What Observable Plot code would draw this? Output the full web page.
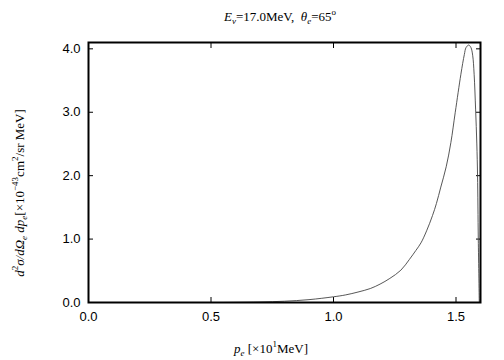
<!DOCTYPE html>
<html>
<head>
<meta charset="utf-8">
<script src="https://cdn.jsdelivr.net/npm/d3@7"></script>
<script src="https://cdn.jsdelivr.net/npm/@observablehq/plot@0.6"></script>
<style>
  html, body { margin: 0; padding: 0; background: #fff; }
</style>
</head>
<body>
<div id="chart"></div>
<script>
// momentum p_e [x10 MeV]
const pe = [0.55, 0.60, 0.70, 0.80, 0.90, 1.00, 1.05, 1.10, 1.15, 1.19, 1.23, 1.275, 1.31, 1.336, 1.357, 1.38, 1.404, 1.42, 1.438, 1.46, 1.479, 1.497, 1.52, 1.534, 1.541, 1.552, 1.561, 1.568, 1.574, 1.58, 1.585, 1.588, 1.591, 1.595];
// cross section [x10^-43 cm^2/sr MeV]
const xs = [0.0, 0.002, 0.008, 0.02, 0.045, 0.09, 0.12, 0.165, 0.22, 0.29, 0.38, 0.51, 0.68, 0.82, 0.94, 1.13, 1.37, 1.56, 1.82, 2.14, 2.52, 3.0, 3.60, 3.91, 4.02, 4.06, 4.02, 3.90, 3.60, 3.05, 2.5, 2.0, 1.0, 0.0];
const xTicks = [0.0, 0.5, 1.0, 1.5];
const yTicks = [0.0, 1.0, 2.0, 3.0, 4.0];

const data = pe.map((p, i) => ({p, v: xs[i]}));
const fmt = d3.format(".1f");

const chart = Plot.plot({
  width: 504,
  height: 360,
  marginLeft: 88,
  marginRight: 24,
  marginTop: 42,
  marginBottom: 58,
  style: {background: "#fff", color: "#000", fontFamily: "Liberation Sans, Arial, sans-serif", fontSize: "13px"},
  x: {domain: [0, 1.6]},
  y: {domain: [0, 4.1]},
  marks: [
    Plot.axisX(xTicks, {anchor: "bottom", tickSize: -5, tickFormat: fmt, tickPadding: 14, label: null, fontSize: 13, stroke: "#000"}),
    Plot.axisX(xTicks, {anchor: "top", tickSize: -5, tickFormat: () => "", label: null, stroke: "#000"}),
    Plot.axisY(yTicks, {anchor: "left", tickSize: -5, tickFormat: fmt, tickPadding: 13, label: null, fontSize: 13, stroke: "#000"}),
    Plot.axisY(yTicks, {anchor: "right", tickSize: -5, tickFormat: () => "", label: null, stroke: "#000"}),
    Plot.line(data, {x: "p", y: "v", stroke: "#444", strokeWidth: 0.9, curve: "catmull-rom"}),
    Plot.frame({stroke: "#000", strokeWidth: 2})
  ]
});

document.getElementById("chart").appendChild(chart);

// Rich-text labels
const svg = d3.select(chart);
const serif = "Liberation Serif, Times New Roman, serif";

const title = svg.append("text")
  .attr("x", 280).attr("y", 21)
  .attr("text-anchor", "middle")
  .attr("font-family", serif).attr("font-size", 13).attr("fill", "#000");
title.append("tspan").attr("font-style", "italic").text("E");
title.append("tspan").attr("font-style", "italic").attr("font-size", 9).attr("dy", 3).text("ν");
title.append("tspan").attr("dy", -3).text("=17.0MeV,  ");
title.append("tspan").attr("font-style", "italic").text("θ");
title.append("tspan").attr("font-style", "italic").attr("font-size", 9).attr("dy", 3).text("e");
title.append("tspan").attr("dy", -3).text("=65");
title.append("tspan").attr("font-size", 9).attr("dy", -6).text("o");

const xl = svg.append("text")
  .attr("x", 271).attr("y", 353)
  .attr("text-anchor", "middle")
  .attr("font-family", serif).attr("font-size", 13).attr("fill", "#000");
xl.append("tspan").attr("font-style", "italic").text("p");
xl.append("tspan").attr("font-style", "italic").attr("font-size", 9).attr("dy", 3).text("e");
xl.append("tspan").attr("dy", -3).text(" [×10");
xl.append("tspan").attr("font-size", 9).attr("dy", -6).text("1");
xl.append("tspan").attr("dy", 6).text("MeV]");

const yl = svg.append("text")
  .attr("transform", "translate(24,193) rotate(-90)")
  .attr("text-anchor", "middle")
  .attr("font-family", serif).attr("font-size", 13).attr("fill", "#000");
yl.append("tspan").attr("font-style", "italic").text("d");
yl.append("tspan").attr("font-size", 9).attr("dy", -6).text("2");
yl.append("tspan").attr("font-style", "italic").attr("dy", 6).text("σ/dΩ");
yl.append("tspan").attr("font-style", "italic").attr("font-size", 9).attr("dy", 3).text("e");
yl.append("tspan").attr("font-style", "italic").attr("dy", -3).text(" dp");
yl.append("tspan").attr("font-style", "italic").attr("font-size", 9).attr("dy", 3).text("e");
yl.append("tspan").attr("dy", -3).text("[×10");
yl.append("tspan").attr("font-size", 9).attr("dy", -6).text("−43");
yl.append("tspan").attr("dy", 6).text("cm");
yl.append("tspan").attr("font-size", 9).attr("dy", -6).text("2");
yl.append("tspan").attr("dy", 6).text("/sr MeV]");
</script>
</body>
</html>
